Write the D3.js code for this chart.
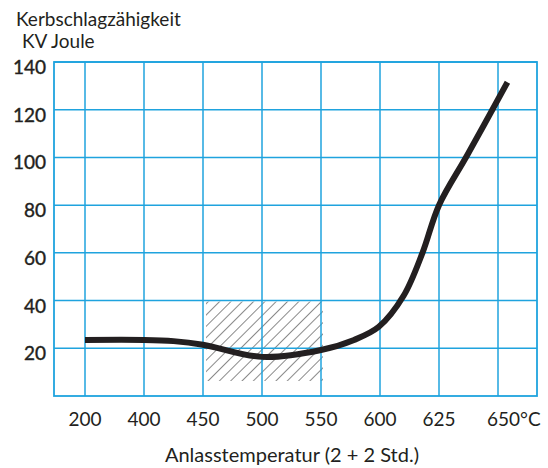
<!DOCTYPE html>
<html>
<head>
<meta charset="utf-8">
<script src="https://cdn.jsdelivr.net/npm/d3@7"></script>
<style>
  body { margin: 0; background: #fff; }
  text { font-family: Lato, "Open Sans", sans-serif; fill: #231f20; }
</style>
</head>
<body>
<div id="chart"></div>
<script>
// x categories (equally spaced on the axis)
const temps = [200, 400, 450, 500, 550, 600, 625, 650];
const tempLabels = ["200", "400", "450", "500", "550", "600", "625", "650°C"];
const yTicks = [20, 40, 60, 80, 100, 120, 140];

// curve: temperature / KV Joule
const curveTemp = [200, 400, 425, 450, 500, 550, 578, 599, 610, 618, 625, 637, 654];
const curveKV = [23.5, 23.5, 23, 21.5, 16.4, 19.3, 23.5, 29, 42, 60, 80, 101, 131.5];

// hatched range
const hatchTemp = [450, 550];
const hatchKV = [6.3, 40];

const width = 548, height = 468;
const plotLeft = 54, plotRight = 537, plotTop = 62, plotBottom = 396;
const first = 85, step = 59;

const svg = d3.select("#chart")
    .append("svg")
    .attr("width", width)
    .attr("height", height);

// piecewise scale: every category sits one step further
const x = d3.scaleLinear()
    .domain(temps)
    .range(temps.map((d, i) => first + i * step));

const y = d3.scaleLinear()
    .domain([0, 140])
    .range([plotBottom, plotTop]);

const blue = "#1fa3de";

// hatch pattern
const defs = svg.append("defs");
defs.append("pattern")
    .attr("id", "hatch")
    .attr("patternUnits", "userSpaceOnUse")
    .attr("width", 8)
    .attr("height", 8)
    .attr("patternTransform", "rotate(45)")
    .append("line")
    .attr("x1", 0).attr("y1", 0)
    .attr("x2", 0).attr("y2", 8)
    .attr("stroke", "#3a3a3a")
    .attr("stroke-width", 1.2);

svg.append("rect")
    .attr("x", x(hatchTemp[0]) + 3)
    .attr("y", y(hatchKV[1]) + 1)
    .attr("width", x(hatchTemp[1]) - x(hatchTemp[0]) - 1)
    .attr("height", y(hatchKV[0]) - y(hatchKV[1]) - 1)
    .attr("fill", "url(#hatch)");

// grid
svg.append("g")
    .selectAll("line")
    .data(yTicks)
    .join("line")
    .attr("x1", plotLeft).attr("x2", plotRight)
    .attr("y1", d => y(d)).attr("y2", d => y(d))
    .attr("stroke", blue)
    .attr("stroke-width", 1.5);

svg.append("g")
    .selectAll("line")
    .data(temps)
    .join("line")
    .attr("x1", d => x(d)).attr("x2", d => x(d))
    .attr("y1", plotTop).attr("y2", plotBottom)
    .attr("stroke", blue)
    .attr("stroke-width", 1.5);

svg.append("rect")
    .attr("x", plotLeft).attr("y", plotTop)
    .attr("width", plotRight - plotLeft)
    .attr("height", plotBottom - plotTop)
    .attr("fill", "none")
    .attr("stroke", blue)
    .attr("stroke-width", 1.8);

// curve
const line = d3.line()
    .x((d, i) => x(curveTemp[i]))
    .y(d => y(d))
    .curve(d3.curveCatmullRom.alpha(0.5));

svg.append("path")
    .datum(curveKV)
    .attr("fill", "none")
    .attr("stroke", "#231f20")
    .attr("stroke-width", 6)
    .attr("d", line);

// y tick labels
svg.append("g")
    .selectAll("text")
    .data(yTicks)
    .join("text")
    .attr("x", 46)
    .attr("y", d => y(d) + 12)
    .attr("text-anchor", "end")
    .style("font-size", "19px")
    .style("stroke", "#231f20")
    .style("stroke-width", 0.4)
    .text(d => d);

// x tick labels
svg.append("g")
    .selectAll("text")
    .data(temps)
    .join("text")
    .attr("x", (d, i) => i === temps.length - 1 ? x(d) - 11 : x(d))
    .attr("y", 426)
    .attr("text-anchor", (d, i) => i === temps.length - 1 ? "start" : "middle")
    .style("font-size", "19px")
    .text((d, i) => tempLabels[i]);

// titles
svg.append("text")
    .attr("x", 16).attr("y", 26)
    .style("font-size", "19px")
    .text("Kerbschlagzähigkeit");

svg.append("text")
    .attr("x", 22).attr("y", 48)
    .style("font-size", "19px")
    .text("KV Joule");

svg.append("text")
    .attr("x", 292).attr("y", 462)
    .attr("text-anchor", "middle")
    .style("font-size", "20px")
    .text("Anlasstemperatur (2 + 2 Std.)");
</script>
</body>
</html>
